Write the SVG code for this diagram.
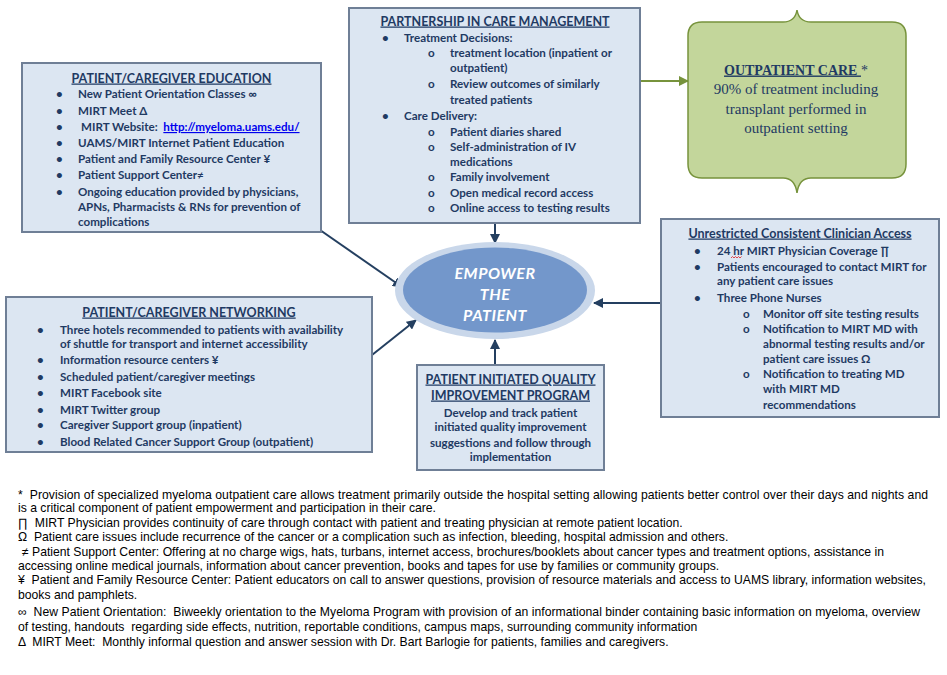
<svg xmlns="http://www.w3.org/2000/svg" width="947" height="675" viewBox="0 0 947 675">
<defs>
<style>
text{white-space:pre}
.box{fill:#dce6f2;stroke:#6f7f96;stroke-width:2}
.t{font-family:Lato,"Liberation Sans",sans-serif;font-weight:bold;font-size:11.6px;fill:#1f3a63}
.ttl{font-family:Lato,"Liberation Sans",sans-serif;font-weight:bold;font-size:12.5px;fill:#1f3a63;text-anchor:middle;text-decoration:underline}
.c{text-anchor:middle}
.con{stroke:#243f60;stroke-width:2;fill:none}
.fn{font-family:"Liberation Sans",Arial,sans-serif;font-size:12.2px;fill:#000}
.ser{font-family:"Liberation Serif","Times New Roman",serif;font-size:15px;fill:#1f3a63;text-anchor:middle}
.emp{font-family:Lato,"Liberation Sans",sans-serif;font-weight:bold;font-style:italic;font-size:16px;fill:#fff;text-anchor:middle;letter-spacing:0.5px}
</style>
<marker id="ah" viewBox="0 0 10 10" refX="9" refY="5" markerWidth="5" markerHeight="5" orient="auto" markerUnits="strokeWidth">
<path d="M0,0 L10,5 L0,10 z" fill="#243f60"/>
</marker>
<marker id="ahg" viewBox="0 0 10 10" refX="9" refY="5" markerWidth="5" markerHeight="5" orient="auto" markerUnits="strokeWidth">
<path d="M0,0 L10,5 L0,10 z" fill="#77933c"/>
</marker>
</defs>
<rect width="947" height="675" fill="#fff"/>

<g id="connectors">
<line class="con" x1="495" y1="224" x2="495" y2="243" marker-end="url(#ah)"/>
<line class="con" x1="320" y1="230" x2="402" y2="287" marker-end="url(#ah)"/>
<line class="con" x1="372" y1="355" x2="416" y2="320" marker-end="url(#ah)"/>
<line class="con" x1="661" y1="303" x2="594" y2="303" marker-end="url(#ah)"/>
<line class="con" x1="495" y1="365" x2="495" y2="340" marker-end="url(#ah)"/>
<line x1="641" y1="81" x2="688" y2="81" stroke="#77933c" stroke-width="2" marker-end="url(#ahg)"/>
</g>

<g id="education">
<rect class="box" x="22" y="63" width="299" height="169"/>
<text class="ttl" x="171.5" y="82.5">PATIENT/CAREGIVER EDUCATION</text>
<g class="t">
<text x="56" y="98">•</text><text x="78" y="98">New Patient Orientation Classes ∞</text>
<text x="56" y="115">•</text><text x="78" y="115">MIRT Meet Δ</text>
<text x="56" y="131">•</text><text x="81" y="131">MIRT Website:  <tspan fill="#0000ee" text-decoration="underline">http://myeloma.uams.edu/</tspan></text>
<text x="56" y="147">•</text><text x="78" y="147">UAMS/MIRT Internet Patient Education</text>
<text x="56" y="163">•</text><text x="78" y="163">Patient and Family Resource Center ¥</text>
<text x="56" y="179">•</text><text x="78" y="179">Patient Support Center≠</text>
<text x="56" y="196">•</text><text x="78" y="196">Ongoing education provided by physicians,</text>
<text x="78" y="211">APNs, Pharmacists &amp; RNs for prevention of</text>
<text x="78" y="226">complications</text>
</g>
</g>

<g id="partnership">
<rect class="box" x="349" y="8" width="291" height="215"/>
<text class="ttl" x="495" y="25.5">PARTNERSHIP IN CARE MANAGEMENT</text>
<g class="t">
<text x="382" y="42">•</text><text x="404" y="42">Treatment Decisions:</text>
<text x="428" y="57">o</text><text x="450" y="57">treatment location (inpatient or</text>
<text x="450" y="72">outpatient)</text>
<text x="428" y="88">o</text><text x="450" y="88">Review outcomes of similarly</text>
<text x="450" y="104">treated patients</text>
<text x="382" y="120">•</text><text x="404" y="120">Care Delivery:</text>
<text x="428" y="136">o</text><text x="450" y="136">Patient diaries shared</text>
<text x="428" y="151">o</text><text x="450" y="151">Self-administration of IV</text>
<text x="450" y="166">medications</text>
<text x="428" y="181">o</text><text x="450" y="181">Family involvement</text>
<text x="428" y="197">o</text><text x="450" y="197">Open medical record access</text>
<text x="428" y="212">o</text><text x="450" y="212">Online access to testing results</text>
</g>
</g>

<g id="outpatient">
<path d="M702,22 L783,22 Q795,22 797,10 Q799,22 811,22 L892,22 Q906,22 906,36 L906,164 Q906,178 892,178 L811,178 Q799,178 797,193 Q795,178 783,178 L702,178 Q688,178 688,164 L688,36 Q688,22 702,22 Z" fill="#c3d69b" stroke="#77933c" stroke-width="1.5"/>
<text class="ser" x="796" y="74.5"><tspan font-weight="bold" font-size="14px" text-decoration="underline">OUTPATIENT CARE </tspan><tspan font-size="14px">*</tspan></text>
<text class="ser" x="796" y="94">90% of treatment including</text>
<text class="ser" x="796" y="114">transplant performed in</text>
<text class="ser" x="796" y="133">outpatient setting</text>
</g>

<g id="unrestricted">
<rect class="box" x="661" y="219" width="278" height="198"/>
<text class="ttl" x="800" y="237.5" font-size="13.3px">Unrestricted Consistent Clinician Access</text>
<g class="t">
<text x="694" y="255">•</text><text x="717" y="255">24 hr MIRT Physician Coverage ∏</text>
<text x="694" y="271">•</text><text x="717" y="271">Patients encouraged to contact MIRT for</text>
<text x="717" y="285">any patient care issues</text>
<text x="694" y="302">•</text><text x="717" y="302">Three Phone Nurses</text>
<text x="743" y="318">o</text><text x="763" y="318">Monitor off site testing results</text>
<text x="743" y="333">o</text><text x="763" y="333">Notification to MIRT MD with</text>
<text x="763" y="348">abnormal testing results and/or</text>
<text x="763" y="363">patient care issues Ω</text>
<text x="743" y="378">o</text><text x="763" y="378">Notification to treating MD</text>
<text x="763" y="393">with MIRT MD</text>
<text x="763" y="409">recommendations</text>
</g>
<path d="M731,258 l1.5,-1.5 l1.5,1.5 l1.5,-1.5 l1.5,1.5 l1.5,-1.5 l1.5,1.5 l1.5,-1.5" fill="none" stroke="#e02020" stroke-width="0.8"/>
</g>

<g id="networking">
<rect class="box" x="6" y="297" width="366" height="155"/>
<text class="ttl" x="189" y="316.5">PATIENT/CAREGIVER NETWORKING</text>
<g class="t">
<text x="37" y="334">•</text><text x="60" y="334">Three hotels recommended to patients with availability</text>
<text x="60" y="348">of shuttle for transport and internet accessibility</text>
<text x="37" y="364">•</text><text x="60" y="364">Information resource centers ¥</text>
<text x="37" y="381">•</text><text x="60" y="381">Scheduled patient/caregiver meetings</text>
<text x="37" y="397">•</text><text x="60" y="397">MIRT Facebook site</text>
<text x="37" y="414">•</text><text x="60" y="414">MIRT Twitter group</text>
<text x="37" y="429">•</text><text x="60" y="429">Caregiver Support group (inpatient)</text>
<text x="37" y="446">•</text><text x="60" y="446">Blood Related Cancer Support Group (outpatient)</text>
</g>
</g>

<g id="quality">
<rect class="box" x="417" y="365" width="187" height="105"/>
<text class="ttl" x="510.5" y="383.5">PATIENT INITIATED QUALITY</text>
<text class="ttl" x="510.5" y="399.5">IMPROVEMENT PROGRAM</text>
<g class="t c">
<text x="510.5" y="417">Develop and track patient</text>
<text x="510.5" y="431">initiated quality improvement</text>
<text x="510.5" y="447">suggestions and follow through</text>
<text x="510.5" y="461">implementation</text>
</g>
</g>

<g id="empower">
<ellipse cx="495" cy="290.5" rx="100" ry="48.5" fill="#c9d7ea"/>
<ellipse cx="495" cy="290" rx="92" ry="42.5" fill="#7397cb"/>
<text class="emp" x="495" y="278.5">EMPOWER</text>
<text class="emp" x="495" y="299.5">THE</text>
<text class="emp" x="495" y="320.5">PATIENT</text>
</g>

<g id="footnotes" class="fn">
<text x="18" y="499" textLength="910">*  Provision of specialized myeloma outpatient care allows treatment primarily outside the hospital setting allowing patients better control over their days and nights and</text>
<text x="18" y="512">is a critical component of patient empowerment and participation in their care.</text>
<text x="18" y="527">∏  MIRT Physician provides continuity of care through contact with patient and treating physician at remote patient location.</text>
<text x="18" y="541">Ω  Patient care issues include recurrence of the cancer or a complication such as infection, bleeding, hospital admission and others.</text>
<text x="22" y="556" textLength="862">≠ Patient Support Center: Offering at no charge wigs, hats, turbans, internet access, brochures/booklets about cancer types and treatment options, assistance in</text>
<text x="18" y="570">accessing online medical journals, information about cancer prevention, books and tapes for use by families or community groups.</text>
<text x="18" y="584" textLength="908">¥  Patient and Family Resource Center: Patient educators on call to answer questions, provision of resource materials and access to UAMS library, information websites,</text>
<text x="18" y="599">books and pamphlets.</text>
<text x="18" y="616" textLength="902">∞  New Patient Orientation:  Biweekly orientation to the Myeloma Program with provision of an informational binder containing basic information on myeloma, overview</text>
<text x="18" y="631">of testing, handouts  regarding side effects, nutrition, reportable conditions, campus maps, surrounding community information</text>
<text x="18" y="646">Δ  MIRT Meet:  Monthly informal question and answer session with Dr. Bart Barlogie for patients, families and caregivers.</text>
</g>
</svg>
